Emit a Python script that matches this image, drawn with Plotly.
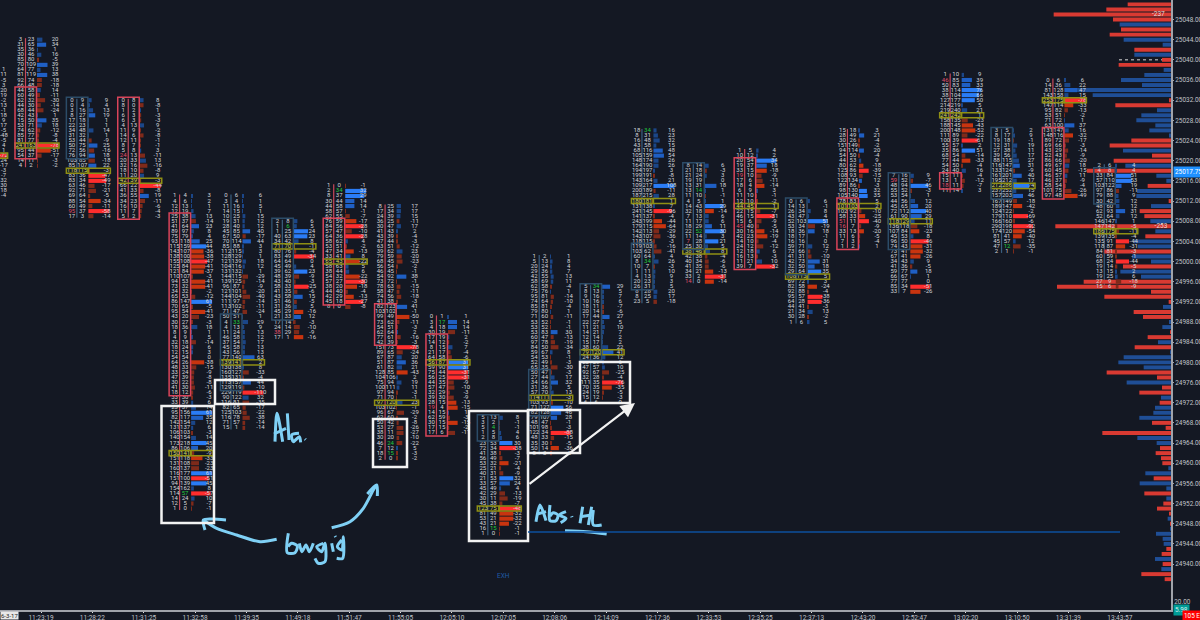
import plotly.graph_objects as go

# ---------- time axis ----------
times = ["11:23:19","11:28:22","11:31:25","11:32:58","11:39:35","11:49:18","11:51:47","11:55:05",
         "12:05:10","12:07:05","12:08:06","12:14:09","12:17:36","12:33:53","12:35:25","12:37:13",
         "12:43:20","12:52:47","13:02:20","13:10:50","13:31:39","13:43:57"]
volume = [5,10,5,26,10,7.5,7.5,7.5,10,26,13,2.5,5,7.5,5,0,0,0,5,0,0,2.5]
volume_colors = ["#7a2a68","#0d8a8a","#7a2a68","#00a8a8","#c8348c","#d83a94","#d83a94","#00a0a0",
                 "#0d8a8a","#00a0a0","#c8348c","#6a2a5a","#0d7a80","#00a8a8","#6a2a5a","#444","#444","#444",
                 "#0d6a70","#444","#444","#0d6a70"]

# ---------- footprint rows (bid, ask), top row first ----------
fp_m = [(10,11),(8,19),(14,9),(7,10),(12,32),(15,34),(24,22),(20,33),(30,29),(25,43),(30,39),(35,52),(33,28),
        (80,32),(28,23),(20,24),(30,31),(120,48),(40,64),(50,33),(22,19),(27,20),(20,52),(14,44),(9,27),(12,8)]
fp_00 = [(3,23),(31,65),(35,36),(30,46),(85,80),(70,109),(64,77),(81,119),(92,74),(66,48),(44,58),(60,49),(62,32),
         (44,30),(68,44),(42,43),(15,50),(53,71),(74,62),(85,77),(81,77),(241,163),(95,44),(54,37),(14,11),(4,2)]
fp_01 = [(0,9),(0,4),(3,16),(8,27),(17,18),(22,23),(34,48),(31,32),(53,44),(50,75),(72,56),(76,94),(103,85),(85,107),
         (118,115),(83,36),(83,34),(63,46),(92,71),(69,64),(88,54),(60,49),(95,37),(17,3)]
fp_02 = [(0,8),(8,0),(1,2),(6,3),(6,3),(4,13),(11,9),(14,6),(12,11),(8,7),(5,8),(24,13),(20,33),(32,16),(18,10),(11,20),
         (42,39),(66,22),(41,33),(36,55),(34,23),(16,10),(11,7),(5,2)]
fp_03 = [(1,4),(4,6),(12,13),(12,19),(25,38),(51,37),(41,64),(89,97),(75,79),(93,118),(115,159),(143,107),(138,100),
         (155,108),(125,84),(121,84),(110,107),(94,53),(73,32),(34,32),(65,53),(86,147),(70,65),(95,54),(43,20),(30,27),
         (18,36),(8,9),(4,9),(32,18),(18,24),(12,15),(54,54),(64,26),(48,33),(33,24),(47,39),(30,22),(41,30),(18,12),
         (33,30),(33,39),(23,37),(95,156),(82,117),(142,154),(131,137),(106,103),(140,154),(173,218),(86,106),(150,141),
         (151,118),(131,108),(160,137),(116,177),(151,100),(94,139),(154,162),(114,57),(14,24),(12,5),(1,0)]
fp_04 = [(0,6),(3,4),(11,16),(14,15),(10,25),(19,31),(28,40),(45,85),(67,50),(70,114),(85,88),(112,115),(128,129),
         (121,139),(104,116),(131,132),(144,115),(139,125),(96,87),(121,101),(144,104),(111,97),(113,102),(71,47),(50,51),
         (4,33),(4,13),(11,24),(46,58),(37,54),(45,58),(43,56),(77,140),(139,141),(130,138),(160,127),(135,131),(113,157),
         (129,119),(229,119),(90,122),(116,81),(82,65),(125,103),(116,78),(71,57),(15,1)]
fp_05 = [(2,8),(1,6),(1,25),(40,63),(34,42),(71,70),(80,76),(83,49),(64,64),(45,49),(39,62),(48,39),(43,40),(58,33),
         (41,35),(43,58),(51,46),(31,36),(45,29),(21,33),(17,14),(24,14),(38,29),(17,1)]
fp_06 = [(1,0),(2,34),(8,37),(30,44),(44,58),(58,57),(62,55),(76,59),(84,56),(57,47),(64,36),(58,62),(53,51),(47,34),
         (33,41),(65,43),(58,63),(38,44),(54,32),(57,27),(38,20),(44,40),(42,29),(45,18),(8,0)]
fp_07 = [(8,25),(17,34),(24,39),(36,25),(30,47),(41,43),(43,39),(47,44),(63,51),(39,62),(79,59),(68,45),(56,54),(46,45),
         (54,92),(73,72),(78,63),(58,47),(74,56),(41,38),(82,123),(103,102),(99,49),(73,62),(54,51),(62,64),(77,61),(42,39),
         (151,73),(89,65),(67,87),(51,87),(61,82),(128,85),(104,106),(75,94),(100,111),(97,94),(71,70),(97,120),(103,102),
         (96,67),(62,60),(50,42),(53,27),(38,11),(30,20),(46,24),(7,12),(18,15),(2,0)]
fp_08 = [(0,1),(3,17),(4,18),(30,19),(17,19),(14,12),(8,15),(21,17),(64,58),(56,87),(59,90),(75,44),(56,25),(44,35),
         (57,47),(32,29),(39,30),(28,15),(19,4),(14,15),(62,59),(30,15),(17,15),(17,6)]
fp_09 = [(5,13),(3,2),(5,4),(1,5),(2,8),(23,53),(72,34),(41,38),(56,49),(53,32),(25,21),(40,31),(21,53),(33,57),(45,49),
         (42,29),(30,11),(45,38),(123,75),(81,49),(53,21),(43,21),(16,15),(1,0)]
fp_10 = [(1,2),(5,13),(20,24),(29,36),(42,55),(58,69),(62,58),(75,76),(95,81),(74,64),(85,81),(79,80),(71,60),(53,52),
         (53,52),(53,83),(60,47),(97,78),(84,50),(59,67),(54,53),(52,49),(65,35),(50,47),(27,44),(34,66),(31,36),(57,70),
         (114,111),(103,93),(71,127),(82,128),(79,107),(48,47),(101,98),(122,34),(48,33),(35,30),(50,14),(8,3)]
fp_11 = [(5,34),(8,13),(9,16),(10,16),(18,11),(20,14),(17,44),(22,27),(11,21),(14,21),(12,14),(15,17),(38,60),(79,120),
         (24,36),(23,29),(47,57),(92,67),(32,28),(111,35),(70,35),(24,19),(15,12),(6,6)]
fp_12 = [(18,34),(8,31),(16,48),(43,58),(68,116),(105,159),(148,174),(164,190),(194,197),(199,191),(143,164),(109,217),
         (200,189),(187,215),(180,181),(131,138),(241,145),(141,137),(243,199),(179,115),(142,113),(143,107),(118,115),
         (119,103),(103,62),(60,64),(8,34),(10,7),(1,11),(4,13),(20,23),(26,31),(8,28),(8,25),(23,5)]
fp_13 = [(8,14),(21,18),(21,24),(19,19),(13,31),(13,14),(11,10),(4,5),(14,43),(32,18),(7,13),(11,17),(18,29),(22,52),
         (11,14),(7,28),(25,30),(38,46),(42,38),(40,34),(41,35),(34,21),(33,2),(14,0)]
fp_14 = [(1,5),(10,12),(20,54),(19,37),(33,15),(19,10),(17,6),(18,4),(6,9),(11,10),(12,10),(44,45),(22,15),(46,15),(15,6),
         (45,40),(30,16),(42,23),(14,10),(24,12),(12,18),(16,13),(11,21),(39,7)]
fp_15 = [(0,6),(14,13),(26,34),(43,47),(52,103),(53,34),(18,36),(18,17),(16,16),(59,71),(73,66),(41,31),(42,73),(32,50),
         (29,64),(108,113),(69,72),(82,58),(92,88),(95,57),(64,28),(44,41),(21,34),(30,28),(1,6)]
fp_16 = [(15,18),(28,49),(30,26),(151,149),(94,114),(54,50),(44,53),(80,62),(125,86),(108,93),(122,134),(89,86),(98,130),
         (105,140),(78,83),(101,103),(102,92),(58,33),(51,11),(16,7),(33,13),(11,6),(7,3),(1,2)]
fp_17 = [(7,16),(59,52),(48,94),(55,52),(53,54),(44,56),(45,65),(72,112),(61,90),(118,129),(136,118),(107,84),(45,53),
         (96,50),(74,43),(73,41),(67,41),(34,43),(41,36),(59,77),(66,67),(77,77),(85,34),(33,7)]
fp_18 = [(1,10),(46,85),(50,83),(38,114),(38,104),(127,177),(214,219),(219,240),(241,242),(158,135),(188,145),(200,148),
         (111,89),(100,39),(55,57),(35,86),(68,54),(77,44),(54,50),(24,40),(15,11),(13,1),(18,11),(11,14)]
fp_19 = [(3,5),(8,17),(19,18),(12,31),(27,38),(39,56),(88,115),(116,147),(133,124),(161,201),(195,212),(212,286),(237,252),
         (157,203),(167,149),(189,147),(124,122),(179,110),(166,160),(290,198),(174,120),(81,41),(45,57),(47,12),(2,1)]
fp_20 = [(0,6),(14,36),(81,128),(143,158),(253,175),(147,114),(95,82),(53,51),(71,72),(63,100),(131,147),(148,116),(89,72),
         (69,66),(43,29),(52,43),(86,66),(49,67),(60,45),(46,57),(46,37),(58,54),(101,75),(97,48)]
fp_21 = [(2,6),(4,8),(33,84),(57,110),(103,122),(97,86),(79,88),(30,42),(48,60),(62,93),(52,64),(146,147),(147,142),(186,175),
         (139,135),(135,91),(118,87),(84,81),(60,59),(68,24),(19,14),(13,15),(19,25),(27,9),(15,6)]
footprints = [fp_m,fp_00,fp_01,fp_02,fp_03,fp_04,fp_05,fp_06,fp_07,fp_08,fp_09,fp_10,fp_11,fp_12,fp_13,fp_14,fp_15,fp_16,
              fp_17,fp_18,fp_19,fp_20,fp_21]
top_price = [25038,25044,25032,25032,25013,25013,25008,25015,25011,24989,24969,25001,24995,25026,25019,25022,25012,25026,
             25017,25037,25026,25036,25019]
poc_row = [17,21,14,16,51,33,5,15,39,9,18,28,13,14,17,11,15,15,9,8,11,4,13]
# widest delta bar of each footprint, in plot pixels
peak_px = [21,21,21,21,21,21,20,21,20,20,21,20,21,21,20,20,20,10,20,20,20,21,16]
wick = "rrbrrbbrrrbbbbbrbrbrbrb"
# boxes by (slot index, first row, last row)
red_boxes = [(0,10,23),(2,0,23),(3,4,39),(6,7,23),(7,20,27),(8,4,23),(14,2,23),(16,14,23),(18,20,22),(20,10,23)]
blue_boxes = [(1,0,11),(4,24,38),(5,0,19),(9,0,4),(10,23,31),(11,0,14),(12,23,31),(13,0,16),(15,0,14),(17,0,14),(19,0,13),(21,1,7)]
green_asks = [(3,59),(4,25),(5,1),(6,1),(7,47),(7,49),(8,1),(9,2),(9,22),(11,0),(12,0),(12,26),(13,5),(13,13),(19,23)]
red_bids = [(1,22),(2,11),(5,22),(8,18),(13,15),(13,23),(14,5),(14,15),(16,18),(16,19),(17,1),(18,1),(18,22)]

# ---------- session profile, 25051 downwards (neg = red, pos = blue) ----------
profile_top = 25051
profile = [-130,-194,-352,-174,154,-150,-184,142,25,-110,110,-27,-157,22,80,150,87,302,235,-5,-167,42,89,104,47,65,4,-119,-184,
           144,-57,-172,137,-252,44,14,-70,102,104,-7,60,-94,-80,62,-347,47,-77,112,100,-200,117,60,-144,152,90,-262,-342,-60,-200,
           -7,24,-112,-84,4,26,-2,-70,39,-109,2,142,158,82,-193,-42,133,-27,-95,30,-34,48,53,95,-57,-16,-206,101,43,-33,-46,-30,-26,
           8,77,-52,94,14,-80,14,-23,-42,-6,10,-2,1,45,25,22,-14,-28,48,-25,29,-89,-19]

# ---------- geometry of the reference plot ----------
W, H = 1200, 620
PL, PR, PB = 1171, 29, 610
SLOT = 51.37
X0 = 41.0
def px2i(px): return (px - X0) / SLOT
def off(px): return px / SLOT
def py2p(py): return 25048 - (py - 19.5) / 5.042
BG = "#141823"
TXT = "#d2d4d8"
TICK = "#c0c3c9"
FONT = "Roboto"

fig = go.Figure()

# profile (lower layer, own reversed axis)
pr_y = [profile_top - k for k in range(len(profile))]
fig.add_trace(go.Bar(orientation="h", y=pr_y, x=[abs(v) for v in profile], xaxis="x2", yaxis="y", width=0.78,
                     marker=dict(color=["#d93a32" if v < 0 else "#1f4e96" for v in profile], line=dict(width=0)),
                     hoverinfo="skip"))
fig.add_trace(go.Scatter(x=[38, 30], y=[25049, 25007], xaxis="x2", yaxis="y", mode="text", text=["-237", "-253"],
                         textfont=dict(size=6.5, color="#e8d8d8", family=FONT), hoverinfo="skip"))

# footprints
bar_y, bar_w, bar_base, bar_col = [], [], [], []
tx = {k: [] for k in "bad"}
tt = {k: [] for k in "bad"}
tc = {k: [] for k in "bad"}
ty = []
shapes = []
for n, rows in enumerate(footprints):
    i = n - 1
    top = top_price[n]
    dmax = max(abs(a - b) for b, a in rows) or 1
    for r, (b, a) in enumerate(rows):
        p = top - r
        d = a - b
        ty.append(p)
        poc = r == poc_row[n]
        tx["b"].append(i + off(-20.5)); tt["b"].append(str(b))
        tc["b"].append("#e0506a" if (i, r) in red_bids else ("#d8d860" if poc else TXT))
        tx["a"].append(i + off(-10)); tt["a"].append(str(a))
        tc["a"].append("#22c83c" if (i, r) in green_asks else ("#d8d860" if poc else TXT))
        tx["d"].append(i + off(14)); tt["d"].append(str(d)); tc["d"].append(TXT)
        if d != 0:
            w = abs(d) / dmax
            if d > 0:
                c = "#2a7cf6" if w >= 0.62 else "#1f5fc4" if w >= 0.3 else "#1b4688"
            else:
                c = "#ff2d2d" if w >= 0.7 else "#c8340f" if w >= 0.4 else "#7f2a1a"
            bar_y.append(p); bar_w.append(off(w * peak_px[n])); bar_base.append(i + off(-4)); bar_col.append(c)
    # wick
    shapes.append(dict(type="line", xref="x", yref="y", x0=i + off(-15.5), x1=i + off(-15.5), y0=top + 0.3, y1=top - len(rows) + 0.7,
                       line=dict(color="#c8485a" if wick[n] == "r" else "#3a5f80", width=1.2), layer="below"))
    # POC outlines
    pp = top - poc_row[n]
    for a0, a1 in ((-26, -4.5), (-4, 18)):
        shapes.append(dict(type="rect", xref="x", yref="y", x0=i + off(a0), x1=i + off(a1), y0=pp - 0.5, y1=pp + 0.5,
                           line=dict(color="#8f8f14", width=1.5)))

for boxes, col in ((red_boxes, "#d9445a"), (blue_boxes, "#2c4c68")):
    for i, r0, r1 in boxes:
        top = top_price[i + 1]
        shapes.append(dict(type="rect", xref="x", yref="y", x0=i + off(-26), x1=i + off(-4.5),
                           y0=top - r1 - 0.6, y1=top - r0 + 0.6, line=dict(color=col, width=1.5)))

fig.add_trace(go.Bar(orientation="h", y=bar_y, x=bar_w, base=bar_base, width=0.82, xaxis="x", yaxis="y",
                     marker=dict(color=bar_col, line=dict(width=0)), hoverinfo="skip"))
for k in "bad":
    fig.add_trace(go.Scatter(x=tx[k], y=ty, mode="text", text=tt[k], xaxis="x", yaxis="y", hoverinfo="skip",
                             textfont=dict(size=6, color=tc[k], family=FONT)))

# volume study at bottom
fig.add_trace(go.Bar(x=list(range(len(times))), y=volume, width=0.195, xaxis="x", yaxis="y2",
                     marker=dict(color=volume_colors, line=dict(width=0)), hoverinfo="skip"))

# white study boxes (pixel outlines of the analyst's drawing)
for x0, y0, x1, y1 in [(161.5,406,214,523),(215,380,275,404),(373,419,407,467),(469,411,528,541),(528,410,580,453),(580,362,630,403)]:
    shapes.append(dict(type="rect", xref="x", yref="y", x0=px2i(x0), x1=px2i(x1), y0=py2p(y0), y1=py2p(y1),
                       line=dict(color="#f2f2f2", width=2.5)))
# level line and dashed profile mark
shapes.append(dict(type="line", xref="x", yref="y", x0=px2i(528), x1=px2i(1120), y0=py2p(532), y1=py2p(532),
                   line=dict(color="#0d4f9e", width=1.3)))
shapes.append(dict(type="line", xref="x2", yref="y", x0=156, x1=27, y0=25040, y1=25040,
                   line=dict(color="#d8d8d8", width=1, dash="dot")))

# hand-drawn strokes (pixel paths of the annotation ink)
def z2(pts): return [(150 + x / 3, 380 + y / 3) for x, y in pts]
def z5(pts): return [(460 + x / 3, 280 + y / 3) for x, y in pts]
strokes = [
    z2([(380,478),(330,485),(260,465),(200,445),(160,420)]), z2([(228,420),(185,417),(160,420),(165,450)]),
    z2([(545,443),(600,425),(640,385),(670,330),(680,315)]), z2([(652,342),(680,315),(682,348)]),
    z2([(375,185),(381,100),(398,185)]), z2([(372,162),(408,145)]), z2([(412,100),(417,180)]),
    z2([(447,160),(425,165),(430,185),(448,170),(452,187)]), z2([(465,177),(467,179)]),
    z2([(415,460),(412,518),(435,518),(442,498),(425,490),(414,500)]), z2([(448,490),(456,515),(468,495),(478,515),(490,490)]),
    z2([(520,490),(500,500),(515,515),(525,490),(525,545),(505,550),(495,535)]), z2([(545,490),(550,515)]),
    z2([(555,468),(557,471)]), z2([(575,480),(562,500),(575,510),(580,470),(578,535),(560,535)]),
    z5([(228,725),(240,675),(258,722)]), z5([(232,702),(258,695)]), z5([(270,675),(270,722),(288,722),(294,706),(280,698),(270,708)]),
    z5([(318,695),(298,705),(318,715),(302,728)]), z5([(335,709),(336,712)]),
    z5([(368,680),(360,730)]), z5([(395,680),(385,735)]), z5([(360,710),(395,705)]),
    z5([(400,690),(400,735),(425,735)]), z5([(315,752),(380,755),(440,762)]),
]
for s in strokes:
    fig.add_trace(go.Scatter(x=[px2i(p[0]) for p in s], y=[py2p(p[1]) for p in s], mode="lines", xaxis="x", yaxis="y",
                             line=dict(color="#7fd0f5", width=3, shape="spline", smoothing=0.8), hoverinfo="skip"))

ann = [
    dict(x=px2i(635), y=py2p(403), ax=px2i(528), ay=py2p(485), xref="x", yref="y", axref="x", ayref="y", text="",
         showarrow=True, arrowcolor="#f2f2f2", arrowwidth=2.2, arrowhead=2, arrowsize=1.3),
    dict(x=px2i(503), y=py2p(576), xref="x", yref="y", text="EXH", showarrow=False, font=dict(size=6.5, color="#1f5aa8", family=FONT)),
    dict(x=1.0015, y=25017.75, xref="paper", yref="y", xanchor="left", text="25017.75", showarrow=False, bgcolor="#1e90ff",
         font=dict(size=6.4, color="white", family=FONT), borderpad=1),
    dict(x=1.0015, y=1.2, xref="paper", yref="y2", xanchor="left", text="5.98", showarrow=False, bgcolor="#009c96",
         font=dict(size=6.4, color="#d0f0f0", family=FONT), borderpad=1),
    dict(x=1.0094, y=-0.0098, xref="paper", yref="paper", xanchor="left", yanchor="middle", text="105 E", showarrow=False, bgcolor="#ff0000",
         font=dict(size=6.4, color="white", family=FONT), borderpad=1),
    dict(x=0, y=-0.0098, xref="paper", yref="paper", xanchor="left", yanchor="middle", text="6-3-17", showarrow=False, bgcolor="#e8e8e8",
         font=dict(size=6, color="#222", family=FONT), borderpad=0),
]

price_ticks = list(range(24940, 25052, 4))
fig.update_layout(
    width=W, height=H, margin=dict(l=0, r=PR, t=0, b=H - PB), paper_bgcolor=BG, plot_bgcolor=BG,
    showlegend=False, barmode="overlay", shapes=shapes, annotations=ann, hovermode=False,
    xaxis=dict(overlaying="x2", range=[px2i(0), px2i(PL)], tickmode="array", tickvals=list(range(len(times))), ticktext=times,
               tickfont=dict(size=6.5, color=TICK, family=FONT), showgrid=False, zeroline=False, showline=True, linecolor="#a0a3aa",
               linewidth=2, ticks="outside", ticklen=1, tickcolor="#e0e0e0", anchor="y", side="bottom", automargin=False,
               ticklabelstandoff=-1),
    xaxis2=dict(range=[PL * 3, 0], visible=False, showgrid=False, zeroline=False, anchor="y"),
    yaxis=dict(range=[py2p(PB), py2p(0)], side="right", tickmode="array", tickvals=price_ticks,
               ticktext=[f"{v:.2f}" for v in price_ticks], tickfont=dict(size=6.4, color=TICK, family=FONT), showgrid=False,
               zeroline=False, showline=True, linecolor="#a0a3aa", linewidth=2, ticks="outside", ticklen=1, tickcolor="#a0a3aa",
               anchor="x", automargin=False),
    yaxis2=dict(domain=[0, 0.03], range=[0, 45.75], side="right", tickmode="array", tickvals=[20], ticktext=["20.00"],
                tickfont=dict(size=6.4, color=TICK, family=FONT), showgrid=False, zeroline=False, showline=False, ticks="outside",
                ticklen=1, tickcolor="#a0a3aa", anchor="x", automargin=False),
)
fig.write_html("out.html", config={"displayModeBar": False},
               post_script="document.body.style.margin='0';document.documentElement.style.background='#141823';document.body.style.overflow='hidden';")
